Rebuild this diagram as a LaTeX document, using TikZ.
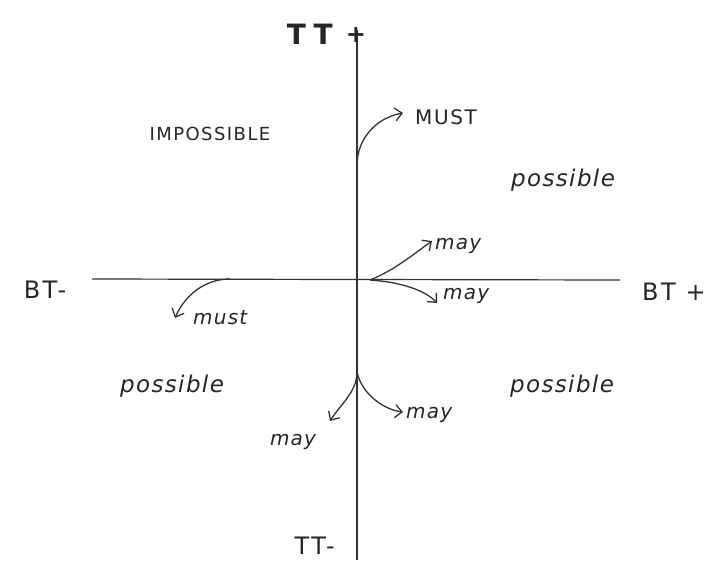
\documentclass[tikz,border=0pt]{standalone}
\usepackage{fontspec}
\setmainfont{DejaVu Sans}
\usetikzlibrary{arrows.meta}
\begin{document}
\begin{tikzpicture}[x=1pt,y=-1pt,
  axis/.style={line width=1.2pt,draw=black!80},
  arr/.style={line width=1.3pt,draw=black!80,-{Straight Barb[length=7pt,width=13pt]}},
  lbl/.style={font=\itshape\fontsize{20}{20}\selectfont\addfontfeature{LetterSpace=6},text=black!85,inner sep=1pt},
  caps/.style={font=\fontsize{18}{18}\selectfont\addfontfeature{LetterSpace=8},text=black!85,inner sep=1pt},
  axl/.style={font=\fontsize{24}{24}\selectfont\addfontfeature{LetterSpace=10},text=black!85,inner sep=1pt},
  big/.style={font=\itshape\fontsize{23}{23}\selectfont\addfontfeature{LetterSpace=6},text=black!85,inner sep=1pt}]
\useasboundingbox (0,0) rectangle (726,571);
\coordinate (ttop) at (357,30);
\coordinate (tbot) at (357,560);
\coordinate (bl) at (92,279);
\coordinate (br) at (620,280);
\draw[axis] (ttop) -- (tbot);
\draw[axis] (bl) -- (br);
\node[axl,font=\bfseries\fontsize{28}{28}\selectfont\addfontfeature{LetterSpace=25},anchor=east] (ttp) at (334,34) {TT};
\node[axl,font=\bfseries\fontsize{24}{24}\selectfont] (plus) at (356,35) {+};
\node[axl,anchor=east] (ttm) at (336,546) {TT-};
\node[axl] (btm) at (45,290) {BT-};
\node[axl] (btp) at (674,292) {BT +};
\node[caps] (imp) at (210,134) {IMPOSSIBLE};
\node[big] (p1) at (563,180) {possible};
\node[big] (p2) at (172,386) {possible};
\node[big] (p3) at (562,386) {possible};
% MUST
\coordinate (m0) at (357,165);
\node[caps,font=\fontsize{20}{20}\selectfont\addfontfeature{LetterSpace=8},anchor=west] (must) at (414,117) {MUST};
\draw[arr] (m0) .. controls (357,140) and (375,118) .. (403,113);
% may right
\coordinate (r0) at (370,280);
\node[lbl,anchor=west] (may1) at (434,246) {may};
\node[lbl,anchor=west] (may2) at (442,296) {may};
\draw[arr] (r0) .. controls (395,270) and (415,253) .. (432,241);
\draw[arr] (r0) .. controls (400,282) and (425,290) .. (437,303);
% must left
\coordinate (l0) at (230,279);
\node[lbl,anchor=west] (must2) at (192,318) {must};
\draw[arr] (l0) .. controls (205,279) and (185,295) .. (175,318);
% bottom may
\coordinate (b0) at (357,372);
\node[lbl] (may3) at (293,442) {may};
\node[lbl,anchor=west] (may4) at (405,415) {may};
\draw[arr] (b0) .. controls (357,392) and (340,405) .. (330,421);
\draw[arr] (b0) .. controls (362,395) and (385,410) .. (403,412);
\end{tikzpicture}
\end{document}
